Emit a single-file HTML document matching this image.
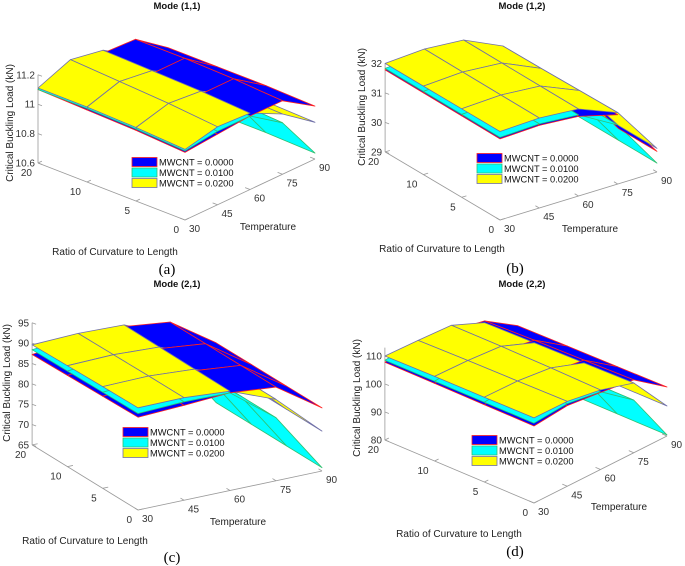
<!DOCTYPE html>
<html><head><meta charset="utf-8"><style>
html,body{margin:0;padding:0;background:#fff;}
svg{display:block;font-family:"Liberation Sans",sans-serif;}
</style></head><body>
<svg id="fig" width="685" height="566" viewBox="0 0 685 566" xmlns="http://www.w3.org/2000/svg"></svg>
<script>
// ---- data ----
const ratioCats = ["0","5","10","20"];
const temps = [30,45,60,75,90];
const legendLabels = ["MWCNT = 0.0000","MWCNT = 0.0100","MWCNT = 0.0200"];

const aTicks = [10.6,10.8,11,11.2];
const aBlue = [
 [11.06,11.08,11.10,11.10,10.96],
 [11.08,11.10,11.12,11.12,10.97],
 [11.09,11.11,11.13,11.13,10.97],
 [11.10,11.12,11.14,11.13,10.97]];
const aCyan = [
 [11.07,11.10,11.10,10.95,10.64],
 [11.09,11.13,11.12,10.97,10.65],
 [11.10,11.15,11.14,10.98,10.65],
 [11.10,11.17,11.15,10.98,10.65]];
const aYellow = [
 [11.08,11.13,11.12,11.01,10.85],
 [11.10,11.16,11.14,11.02,10.86],
 [11.11,11.18,11.15,11.02,10.86],
 [11.11,11.20,11.16,11.02,10.86]];

const bTicks = [29,30,31,32];
const bBlue = [
 [31.75,31.80,31.70,31.35,29.70],
 [31.76,31.82,31.72,31.34,29.70],
 [31.77,31.84,31.73,31.33,29.70],
 [31.78,31.86,31.74,31.32,29.70]];
const bCyan = [
 [31.80,31.85,31.75,31.00,29.30],
 [31.81,31.87,31.76,31.00,29.30],
 [31.82,31.89,31.77,31.00,29.30],
 [31.83,31.91,31.78,31.00,29.30]];
const bYellow = [
 [32.00,32.05,31.95,31.42,29.80],
 [32.00,32.06,31.96,31.40,29.80],
 [32.00,32.07,31.97,31.38,29.80],
 [32.00,32.08,31.98,31.37,29.80]];

const cTicks = [65,70,75,80,85,90,95];
const cBlue = [
 [87.8,88.3,89.0,88.0,80.5],
 [87.6,88.4,89.1,88.0,80.5],
 [87.4,88.5,89.2,88.0,80.5],
 [87.2,88.6,89.3,88.0,80.5]];
const cCyan = [
 [88.7,89.2,89.0,80.5,65.8],
 [88.6,89.3,89.1,80.5,65.8],
 [88.5,89.4,89.2,80.5,65.8],
 [88.4,89.5,89.3,80.5,65.8]];
const cYellow = [
 [90.1,90.2,89.4,85.0,74.8],
 [90.0,90.2,89.5,85.0,74.8],
 [89.8,90.1,89.6,85.0,74.8],
 [89.6,90.0,89.7,85.0,74.8]];

const dTicks = [80,90,100,110];
const dBlue = [
 [107.5,108.8,107.5,106.0,97.5],
 [107.6,108.9,107.3,105.6,97.3],
 [107.7,109.0,107.2,105.2,97.1],
 [107.8,109.1,107.0,104.6,96.9]];
const dCyan = [
 [108.5,109.5,107.8,98.8,80.4],
 [108.5,109.5,107.8,98.8,80.4],
 [108.5,109.5,107.8,98.8,80.4],
 [108.5,109.5,107.8,98.8,80.4]];
const dYellow = [
 [110.4,110.3,108.4,104.9,90.7],
 [110.3,110.1,108.8,104.6,90.7],
 [110.2,109.9,109.0,104.3,90.7],
 [110.0,109.6,109.0,104.0,90.7]];

// ---- layout ----
const NS = "http://www.w3.org/2000/svg";
const fig = document.getElementById("fig");
function mk(tag, attrs, parent){
  const e = document.createElementNS(NS, tag);
  for (const k in attrs) e.setAttribute(k, attrs[k]);
  (parent||fig).appendChild(e);
  return e;
}
const fills = ["#0000ff","#00ffff","#ffff00"];
const edges = ["#ff2020","#30c070","#7070a8"];
const surfNames = ["surface-mwcnt-0000","surface-mwcnt-0100","surface-mwcnt-0200"];

const panels = [
 {id:"a", title:"Mode (1,1)", ticks:aTicks, surf:[aBlue,aCyan,aYellow],
  O:[185,220], R:[-49,-19], T:[32.5,-15.25], zs:147, zmin:10.6, ztop:11.2,
  titleXY:[177,9], ylab:[10,123], tempLab:[268,230], ratioLab:[115,255], cap:[167,274], capText:"(a)",
  leg:[132,162]},
 {id:"b", title:"Mode (1,2)", ticks:bTicks, surf:[bBlue,bCyan,bYellow],
  O:[500,220], R:[-38.3,-22.7], T:[39.25,-12], zs:29.5, zmin:29, ztop:32,
  titleXY:[522,9], ylab:[362,107], tempLab:[590,232], ratioLab:[442,252], cap:[515,273], capText:"(b)",
  leg:[477,158]},
 {id:"c", title:"Mode (2,1)", ticks:cTicks, surf:[cBlue,cCyan,cYellow],
  O:[138,510], R:[-35.3,-21.7], T:[46,-9.75], zs:4.07, zmin:65, ztop:95,
  titleXY:[177,287], ylab:[7,383], tempLab:[238,525], ratioLab:[85,544], cap:[172,562], capText:"(c)",
  leg:[123,432]},
 {id:"d", title:"Mode (2,2)", ticks:dTicks, surf:[dBlue,dCyan,dYellow],
  O:[534,503], R:[-49.7,-21], T:[33.25,-16.75], zs:2.8, zmin:80, ztop:113,
  titleXY:[522,287], ylab:[357,398], tempLab:[619,510], ratioLab:[459,537], cap:[515,556], capText:"(d)",
  leg:[472,440]}
];

function tIdx(t){ return (t - temps[0]) / (temps[1]-temps[0]); }
function proj(p, ri, ti, z){
  return [p.O[0] + ri*p.R[0] + ti*p.T[0], p.O[1] + ri*p.R[1] + ti*p.T[1] - (z - p.zmin)*p.zs];
}

panels.forEach(p => {
  const g = mk("g", {});
  
  
  const nR = ratioCats.length-1;
  const back = proj(p, nR, 0, p.zmin), front = proj(p, 0, 0, p.zmin), right = proj(p, 0, tIdx(temps[temps.length-1]), p.zmin);
  const ztopPt = proj(p, nR, 0, p.ztop);
  const ax = mk("g", {stroke:"#9a9a9a", "stroke-width":"0.8", fill:"none"}, g);
  
  
  mk("line", {x1:back[0],y1:back[1],x2:front[0],y2:front[1]}, ax);
  mk("line", {x1:front[0],y1:front[1],x2:right[0],y2:right[1]}, ax);
  mk("line", {x1:back[0],y1:back[1],x2:ztopPt[0],y2:ztopPt[1]}, ax);
  p.ticks.forEach(v => {
    const q = proj(p, nR, 0, v);
    mk("line", {x1:q[0],y1:q[1],x2:q[0]+4,y2:q[1]+1.5}, ax);
    const t = mk("text", {x:q[0]-3, y:q[1]+3.5, "font-size":"10", "text-anchor":"end", fill:"#333"}, g);
    t.textContent = String(v);
    
    
  });
  ratioCats.forEach((c, i) => {
    const q = proj(p, i, 0, p.zmin);
    mk("line", {x1:q[0],y1:q[1],x2:q[0]+p.T[0]*0.12,y2:q[1]+p.T[1]*0.12}, ax);
    const t = mk("text", {x:q[0]-6, y:q[1]+13, "font-size":"10", "text-anchor":"end", fill:"#333"}, g);
    t.textContent = c;
    
    
  });
  temps.forEach(tv => {
    const q = proj(p, 0, tIdx(tv), p.zmin);
    mk("line", {x1:q[0],y1:q[1],x2:q[0]+p.R[0]*0.1,y2:q[1]+p.R[1]*0.1}, ax);
    const t = mk("text", {x:q[0]+4, y:q[1]+12, "font-size":"10", "text-anchor":"start", fill:"#333"}, g);
    t.textContent = String(tv);
    
    
  });
  const quads = [];
  p.surf.forEach((S, si) => {
    for (let i = 0; i < ratioCats.length-1; i++) for (let j = 0; j < temps.length-1; j++) {
      const ti0 = tIdx(temps[j]), ti1 = tIdx(temps[j+1]);
      const pts = [proj(p,i,ti0,S[i][j]), proj(p,i,ti1,S[i][j+1]), proj(p,i+1,ti1,S[i+1][j+1]), proj(p,i+1,ti0,S[i+1][j])];
      const c = proj(p, i+0.5, (ti0+ti1)/2, p.zmin);
      const zm = (S[i][j]+S[i][j+1]+S[i+1][j+1]+S[i+1][j])/4;
      quads.push({pts, si, depth:c[1], zm});
    }
  });
  quads.sort((a,b) => (a.depth - b.depth) || (a.zm - b.zm));
  const sg = mk("g", {}, g);
  
  
  quads.forEach(q => {
    const poly = mk("polygon", {points:q.pts.map(v=>v[0].toFixed(1)+","+v[1].toFixed(1)).join(" "),
      fill:fills[q.si], stroke:edges[q.si], "stroke-width":"0.8", "stroke-linejoin":"round"}, sg);
    
    
  });
  const lg = mk("g", {}, g);
  
  
  legendLabels.forEach((lab, k) => {
    const y = p.leg[1] + k*10.5;
    const r = mk("rect", {x:p.leg[0], y:y-4.5, width:25, height:9, fill:fills[k], stroke:edges[k], "stroke-width":"0.8"}, lg);
    
    
    const t = mk("text", {x:p.leg[0]+27, y:y+3.3, "font-size":"9.3", fill:"#111"}, lg);
    t.textContent = lab;
    
    
  });
  const tt = mk("text", {x:p.titleXY[0], y:p.titleXY[1], "font-size":"9.5", "font-weight":"bold", "text-anchor":"middle", fill:"#111"}, g);
  tt.textContent = p.title;
  
  
  const yl = mk("text", {x:0, y:0, "font-size":"10", "text-anchor":"middle", fill:"#222",
    transform:`translate(${p.ylab[0]+3},${p.ylab[1]}) rotate(-90)`}, g);
  yl.textContent = "Critical Buckling Load (kN)";
  
  
  const tl = mk("text", {x:p.tempLab[0], y:p.tempLab[1], "font-size":"10", "text-anchor":"middle", fill:"#222"}, g);
  tl.textContent = "Temperature";
  
  
  const rl = mk("text", {x:p.ratioLab[0], y:p.ratioLab[1], "font-size":"10", "text-anchor":"middle", fill:"#222"}, g);
  rl.textContent = "Ratio of Curvature to Length";
  
  
  const cp = mk("text", {x:p.cap[0], y:p.cap[1], "font-size":"15", "text-anchor":"middle", fill:"#000",
    "font-family":"Liberation Serif, serif"}, g);
  cp.textContent = p.capText;
  
  
});
</script>
</body></html>
